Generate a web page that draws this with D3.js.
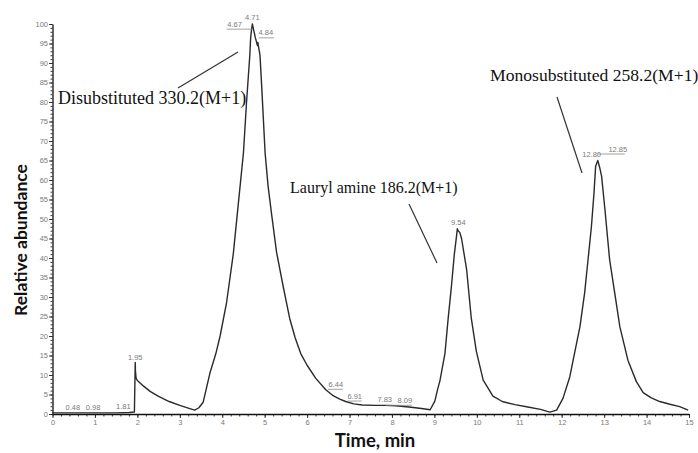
<!DOCTYPE html>
<html>
<head>
<meta charset="utf-8">
<script src="https://cdn.jsdelivr.net/npm/d3@7/dist/d3.min.js"></script>
<style>
  html, body { margin: 0; padding: 0; background: #fff; }
  svg { display: block; }
</style>
</head>
<body>
<svg id="chart" width="698" height="453"></svg>
<script>
// Retention time (min) and relative abundance (%) of the total ion chromatogram
const timeMin = [0, 0.48, 0.98, 1.5, 1.81, 1.93, 1.945, 1.95, 1.955, 1.97, 2.0, 2.14, 2.3, 2.5, 2.75,
  3.0, 3.2, 3.35, 3.45, 3.55, 3.71, 3.85, 3.95, 4.10, 4.26, 4.38, 4.50, 4.57, 4.65, 4.67, 4.69,
  4.71, 4.74, 4.78, 4.83, 4.84, 4.85, 4.89, 4.93, 5.01, 5.08, 5.16, 5.28, 5.44, 5.59, 5.72, 5.85,
  6.0, 6.2, 6.44, 6.6, 6.77, 6.91, 7.1, 7.3, 7.6, 7.83, 8.09, 8.4, 8.7, 8.9, 9.01, 9.08, 9.13,
  9.25, 9.32, 9.40, 9.47, 9.52, 9.54, 9.56, 9.6, 9.64, 9.76, 9.87, 9.99, 10.15, 10.38, 10.6, 10.9,
  11.2, 11.5, 11.72, 11.88, 12.03, 12.19, 12.27, 12.43, 12.54, 12.62, 12.70, 12.76, 12.80, 12.85,
  12.9, 12.94, 13.02, 13.13, 13.25, 13.37, 13.56, 13.76, 13.92, 14.1, 14.31, 14.55, 14.78, 14.98];
const abundance = [0.3, 0.3, 0.3, 0.3, 0.4, 0.5, 10, 13.2, 11, 9.2, 8.6, 7.2, 5.8, 4.5, 3.2,
  2.2, 1.5, 1.0, 1.6, 3.0, 10.5, 15.5, 20, 28.4, 41, 54, 67, 79.5, 92, 96.5, 98.5,
  100, 98.5, 96.5, 94.5, 95.3, 94.5, 92, 84, 67, 58.5, 51.5, 41.5, 32.5, 24.5, 19.5, 15.5,
  12.5, 9.2, 6.2, 4.8, 3.8, 3.2, 2.6, 2.3, 2.2, 2.2, 2.1, 1.8, 1.4, 1.1, 3.3, 6.5, 8.5,
  15.6, 24, 32.6, 41, 45.5, 47.5, 47, 46.5, 45, 37, 24.5, 16, 8.7, 4.6, 3.2, 2.4,
  1.8, 1.2, 0.5, 1.0, 4.0, 9.5, 13.8, 22.4, 31, 39.5, 48, 56.5, 63.5, 65,
  63, 61, 52.3, 39.5, 31, 22.4, 13.8, 8.3, 5.5, 4.2, 3.2, 2.5, 1.9, 1.0];

// Retention times printed above the detected peaks
const peakTimes = ["0.48", "0.98", "1.81", "1.95", "4.67", "4.71", "4.84", "6.44", "6.91",
  "7.83", "8.09", "9.54", "12.80", "12.85"];

// Compound annotations
const compoundNames = ["Disubstituted 330.2(M+1)", "Lauryl amine 186.2(M+1)", "Monosubstituted 258.2(M+1)"];

// Axis ticks
const yTicks = d3.range(0, 101, 5);
const yMinorTicks = d3.range(0, 101, 1);
const xTicks = d3.range(0, 16, 1);
const xMinorTicks = d3.range(0, 75.5, 1).map(d => d / 5);

const xTitle = "Time, min";
const yTitle = "Relative abundance";

const svg = d3.select("#chart");
const x = d3.scaleLinear().domain([0, 15]).range([52.5, 689]);
const y = d3.scaleLinear().domain([0, 100]).range([414, 24]);

const tickFont = "Liberation Sans, Arial, sans-serif";
const tickColor = "#7a7a7a";

// Minor ticks (unlabelled)
svg.append("g")
  .attr("transform", `translate(${x(0)},0)`)
  .call(d3.axisLeft(y).tickValues(yMinorTicks).tickSize(2).tickFormat(""))
  .call(g => g.select(".domain").remove());
svg.append("g")
  .attr("transform", `translate(0,${y(0)})`)
  .call(d3.axisBottom(x).tickValues(xMinorTicks).tickSize(2.5).tickFormat(""))
  .call(g => g.select(".domain").remove());

// Major ticks with labels
const yAxis = svg.append("g")
  .attr("transform", `translate(${x(0)},0)`)
  .call(d3.axisLeft(y).tickValues(yTicks).tickSize(3.5).tickSizeOuter(0).tickPadding(1).tickFormat(d3.format("d")));
const xAxis = svg.append("g")
  .attr("transform", `translate(0,${y(0)})`)
  .call(d3.axisBottom(x).tickValues(xTicks).tickSize(4).tickSizeOuter(0).tickPadding(2).tickFormat(d3.format("d")));

[yAxis, xAxis].forEach(g => {
  g.selectAll("text").attr("font-family", tickFont).attr("font-size", 7.5).attr("fill", tickColor);
  g.select(".domain").attr("stroke", "#111").attr("stroke-width", 1.3);
});
svg.selectAll(".tick line").attr("stroke", "#222").attr("stroke-width", 0.9);

// Chromatogram trace
const pts = timeMin.map((t, i) => [t, abundance[i]]);
svg.append("path")
  .datum(pts)
  .attr("fill", "none")
  .attr("stroke", "#2a2a2a")
  .attr("stroke-width", 1.4)
  .attr("stroke-linejoin", "round")
  .attr("d", d3.line().x(d => x(d[0])).y(d => y(d[1])));

// Peak retention-time labels; offsets keep crowded labels apart
const labelShift = {
  "0.48": [0, -3], "0.98": [-1, -3], "1.81": [-6, -3], "1.95": [0, -3],
  "4.67": [-16, -11, -8, 18], "4.71": [0, -4], "4.84": [8, -7, -7, 8],
  "6.44": [10, -3, -8, 7], "6.91": [9, -3, -7, 7], "7.83": [0, -3], "8.09": [9, -3, -19, 7],
  "9.54": [1, -4], "12.80": [-4, -9], "12.85": [20, -9, -20, 7]
};
const peakG = svg.append("g");
peakTimes.forEach(lbl => {
  const t = +lbl;
  const v = abundance[timeMin.indexOf(t)];
  const [dx, dy, u0, u1] = labelShift[lbl];
  const px = x(t) + dx, py = y(v) + dy;
  peakG.append("text")
    .attr("x", px).attr("y", py)
    .attr("text-anchor", "middle")
    .attr("font-family", tickFont).attr("font-size", 7.5).attr("fill", tickColor)
    .text(lbl);
  if (u0 !== undefined) {
    peakG.append("line")
      .attr("x1", px + u0).attr("x2", px + u1)
      .attr("y1", py + 2.5).attr("y2", py + 2.5)
      .attr("stroke", "#8a8a8a").attr("stroke-width", 0.8);
  }
});

// Compound annotations with pointer lines
const annLayout = [
  { tx: 58, ty: 104, size: 18, x1: 178, y1: 88, x2: 238, y2: 52 },
  { tx: 290, ty: 193, size: 16, x1: 409, y1: 204, x2: 437, y2: 263 },
  { tx: 490, ty: 81, size: 17.6, x1: 557, y1: 97, x2: 582, y2: 173 }
];
compoundNames.forEach((name, i) => {
  const a = annLayout[i];
  svg.append("text")
    .attr("x", a.tx).attr("y", a.ty)
    .attr("font-family", "Liberation Serif, Times New Roman, serif")
    .attr("font-size", a.size).attr("fill", "#111")
    .text(name);
  svg.append("line")
    .attr("x1", a.x1).attr("y1", a.y1).attr("x2", a.x2).attr("y2", a.y2)
    .attr("stroke", "#333").attr("stroke-width", 1.2);
});

// Axis titles
svg.append("text")
  .attr("x", 375).attr("y", 447)
  .attr("text-anchor", "middle")
  .attr("font-family", "Lato, sans-serif").attr("font-weight", 700)
  .attr("font-size", 18.5).attr("fill", "#111")
  .text(xTitle);
svg.append("text")
  .attr("transform", "translate(26.5,240) rotate(-90)")
  .attr("text-anchor", "middle")
  .attr("font-family", "Lato, sans-serif").attr("font-weight", 700)
  .attr("font-size", 17.5).attr("fill", "#111")
  .text(yTitle);
</script>
</body>
</html>
